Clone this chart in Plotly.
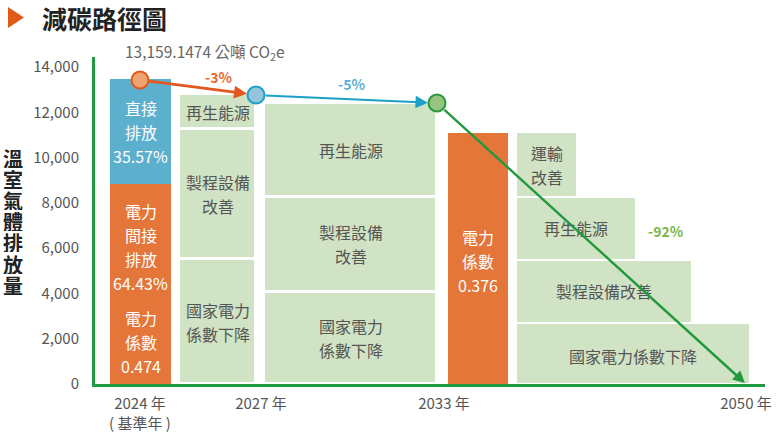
import plotly.graph_objects as go

# ---------------- data ----------------
categories = ["2024 年<br>( 基準年 )", "2027 年", "2033 年", "2050 年"]
milestone_values = [13430, 12765, 12410, 40]
change_labels = ["-3%", "-5%", "-92%"]
base_total_label = "13,159.1474 公噸 CO<sub>2</sub>e"

indirect_2024 = 8850
direct_2024 = 4610
direct_label = ["直接", "排放", "35.57%"]
indirect_label = ["電力", "間接", "排放", "64.43%"]
factor_2024_label = ["電力", "係數", "0.474"]

measures_2027 = [5520, 5740, 1550]
labels_2027 = [["國家電力", "係數下降"], ["製程設備", "改善"], ["再生能源"]]

measures_2033 = [4064, 4196, 4152]
labels_2033 = [["國家電力", "係數下降"], ["製程設備", "改善"], ["再生能源"]]

power_2033 = 11087
power_2033_label = ["電力", "係數", "0.376"]

measures_2050 = [2700, 2780, 2780, 2870]
labels_2050 = [["國家電力係數下降"], ["製程設備改善"], ["再生能源"], ["運輸", "改善"]]

y_ticks = [0, 2000, 4000, 6000, 8000, 10000, 12000, 14000]
y_title = "溫室氣體排放量"
title_text = "減碳路徑圖"

# ---------------- layout / style constants ----------------
W, H = 776, 438
ML, MR, MT, MB = 95, 11, 57, 54
PLOT_W = W - ML - MR
PLOT_H = H - MT - MB
YMAX = 14443
X0, X1 = ML, W - MR           # x axis in page-pixel units

ORANGE = "#E4763A"
BLUE = "#5DAFCE"
LGREEN = "#D0E3C4"
AXGREEN = "#1F9B41"
GREY = "#555555"
FONT = "Noto Sans CJK TC"
PITCH = 24

col2024 = (110, 171)
col2027 = (179, 256)
col2033 = (264, 437)
colpow = (448, 508)
col2050_left = 516
col2050_right = [750, 692, 636, 577]
milestone_x = [140, 256, 437, 745]
tick_x = [140, 261, 444, 746]

def py2val(py):
    return (H - MB - py) / PLOT_H * YMAX

def paper_x(px):
    return (px - ML) / PLOT_W

def paper_y(py):
    return (H - MB - py) / PLOT_H

fig = go.Figure()

def add_bar(left, right, base, val, color, gap=0):
    fig.add_trace(go.Bar(
        x=[(left + right) / 2], y=[val], base=[base], width=[right - left],
        marker=dict(color=color, line=dict(color="white", width=gap)),
        hoverinfo="skip", showlegend=False))

annots = []

def add_lines(x, yval, lines, color, size=16, pitch=PITCH, shift=0, bold=False):
    n = len(lines)
    for i, t in enumerate(lines):
        txt = f"<b>{t}</b>" if bold else t
        annots.append(dict(x=x, y=yval, xref="x", yref="y", text=txt, showarrow=False,
                           xanchor="center", yanchor="middle",
                           yshift=((n - 1) / 2 - i) * pitch + shift,
                           font=dict(family=FONT, size=size, color=color)))

# 2024 bars
add_bar(*col2024, 0, indirect_2024, ORANGE)
add_bar(*col2024, indirect_2024, direct_2024, BLUE)
cx = sum(col2024) / 2
add_lines(cx, indirect_2024 + direct_2024 / 2, direct_label, "white", shift=-1)
add_lines(cx, py2val(246.5), indirect_label, "white")
add_lines(cx, py2val(342), factor_2024_label, "white")

# stacked green measure columns
def stacked(left, right, vals, labels, gap):
    b = 0
    for v, lab in zip(vals, labels):
        add_bar(left, right, b, v, LGREEN, gap)
        add_lines((left + right) / 2, b + v / 2, lab, GREY, size=16)
        b += v

stacked(*col2027, measures_2027, labels_2027, 3)
stacked(*col2033, measures_2033, labels_2033, 3)

# 2033 power factor bar
add_bar(*colpow, 0, power_2033, ORANGE)
add_lines(sum(colpow) / 2, power_2033 / 2, power_2033_label, "white", shift=-3)

# 2050 stair blocks
b = 0
for v, r, lab in zip(measures_2050, col2050_right, labels_2050):
    add_bar(col2050_left, r, b, v, LGREEN, 2)
    add_lines((col2050_left + r) / 2, b + v / 2, lab, GREY, size=16,
              shift=-3 if len(lab) == 1 and b == 0 else 0)
    b += v

# milestone circles
fig.add_trace(go.Scatter(
    x=milestone_x[:3], y=milestone_values[:3], mode="markers",
    marker=dict(size=17, color=["#EEA26F", "#94C5DC", "#97C580"],
                line=dict(color=["#E2581F", "#1BA1C6", "#26983E"], width=2)),
    hoverinfo="skip", showlegend=False))

# arrows between milestones
arrow_cols = ["#E2581F", "#1BA1C6", "#22993D"]
arrow_w = [2.6, 2.0, 2.4]
arrow_sz = [1.0, 1.25, 1.0]
for i in range(3):
    annots.append(dict(
        x=milestone_x[i + 1], y=milestone_values[i + 1], xref="x", yref="y",
        ax=milestone_x[i], ay=milestone_values[i], axref="x", ayref="y",
        text="", showarrow=True, arrowhead=2, arrowsize=arrow_sz[i],
        arrowwidth=arrow_w[i], arrowcolor=arrow_cols[i],
        standoff=9 if i < 2 else 0, startstandoff=8))

# change labels
pct_pos = [(218, 77), (351, 84), (666, 231)]
pct_cols = ["#E8692E", "#5BAFD6", "#7AB648"]
for t, (px, py), c in zip(change_labels, pct_pos, pct_cols):
    annots.append(dict(x=px, y=py2val(py), xref="x", yref="y", text=f"<b>{t}</b>",
                       showarrow=False, xanchor="center", yanchor="middle",
                       font=dict(family=FONT, size=14, color=c)))

# total label
annots.append(dict(x=paper_x(205), y=paper_y(52), xref="paper", yref="paper",
                   text=base_total_label, showarrow=False,
                   xanchor="center", yanchor="middle",
                   font=dict(family=FONT, size=15.5, color="#666666")))

# title
annots.append(dict(x=paper_x(40), y=paper_y(18), xref="paper", yref="paper",
                   text=f"<b>{title_text}</b>", showarrow=False,
                   xanchor="left", yanchor="middle",
                   font=dict(family=FONT, size=25, color="#222222")))

# vertical y title (one character per row, tightly stacked)
for i, ch in enumerate(y_title):
    annots.append(dict(x=paper_x(13), y=paper_y(158 + i * 21.2), xref="paper", yref="paper",
                       text=f"<b>{ch}</b>", showarrow=False, height=19, borderpad=0,
                       xanchor="center", yanchor="middle", valign="middle",
                       font=dict(family=FONT, size=20, color="#222222")))

shapes = [dict(type="path", xref="paper", yref="paper",
               path=f"M {paper_x(8)} {paper_y(7)} L {paper_x(24)} {paper_y(17.5)} L {paper_x(8)} {paper_y(28)} Z",
               fillcolor="#E05A1A", line=dict(width=0))]

fig.update_layout(
    width=W, height=H, margin=dict(l=ML, r=MR, t=MT, b=MB, autoexpand=False),
    paper_bgcolor="white", plot_bgcolor="white", barmode="overlay", bargap=0,
    showlegend=False, annotations=annots, shapes=shapes,
    xaxis=dict(range=[X0, X1], showgrid=False, zeroline=False, showline=True,
               automargin=False,
               linecolor=AXGREEN, linewidth=3, tickmode="array", tickvals=tick_x,
               ticktext=categories, ticks="", ticklabelstandoff=4,
               tickfont=dict(family=FONT, size=15, color=GREY), fixedrange=True),
    yaxis=dict(range=[0, YMAX], showgrid=False, zeroline=False, showline=True,
               automargin=False,
               linecolor=AXGREEN, linewidth=3, tickmode="array", tickvals=y_ticks,
               ticktext=[f"{v:,}" for v in y_ticks], ticks="", ticklabelstandoff=10,
               tickfont=dict(family=FONT, size=15, color=GREY), fixedrange=True),
)

fig.write_html("out.html", config={"displayModeBar": False},
               post_script="document.body.style.margin='0';document.body.style.overflow='hidden';")
